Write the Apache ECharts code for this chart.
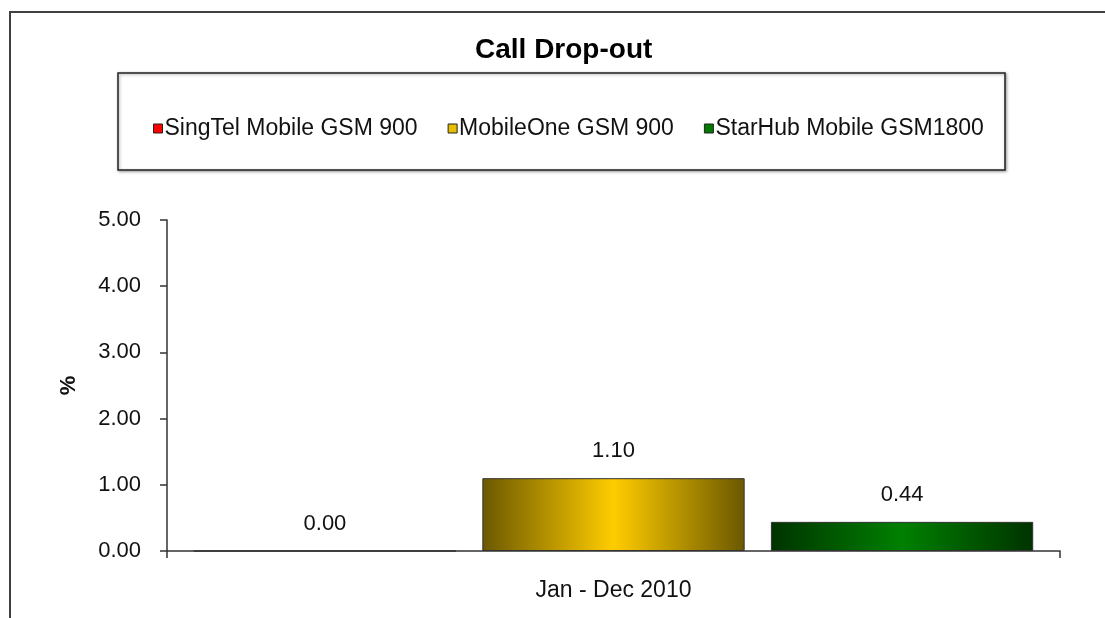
<!DOCTYPE html>
<html>
<head>
<meta charset="utf-8">
<script src="https://cdn.jsdelivr.net/npm/echarts@6/dist/echarts.min.js"></script>
<style>html,body{margin:0;padding:0;background:#fff;}#c{width:1105px;height:618px;}</style>
</head>
<body>
<div id="c"></div>
<script>
var categories = ['Jan - Dec 2010'];
var seriesNames = ['SingTel Mobile GSM 900', 'MobileOne GSM 900', 'StarHub Mobile GSM1800'];
var singtel = [0.00];
var mobileone = [1.10];
var starhub = [0.44];
var yTicks = [0, 1, 2, 3, 4, 5];

var FONT = '"Liberation Sans", Arial, sans-serif';
function grad(edge, mid) {
  return new echarts.graphic.LinearGradient(0, 0, 1, 0, [
    {offset: 0, color: edge}, {offset: 0.5, color: mid}, {offset: 1, color: edge}
  ]);
}
var legendColors = ['#ff0000', '#e6bf00', '#007a00'];
var fills = [grad('#660000', '#ff0000'), grad('#6b5800', '#ffcc00'), grad('#003300', '#008000')];
var values = [singtel, mobileone, starhub];

var chart = echarts.init(document.getElementById('c'));
chart.setOption({
  animation: false,
  backgroundColor: '#ffffff',
  title: {
    text: 'Call Drop-out', left: 470, top: 31,
    textStyle: {fontFamily: FONT, fontSize: 28, fontWeight: 'bold', color: '#000'}
  },
  graphic: [
    {type: 'rect', shape: {x: 10, y: 12, width: 1200, height: 700}, style: {fill: 'none', stroke: '#404040', lineWidth: 2}, z: -1},
    {type: 'rect', shape: {x: 118, y: 73, width: 887, height: 97}, style: {fill: '#fff', stroke: '#222', lineWidth: 1.5, shadowBlur: 3, shadowColor: 'rgba(0,0,0,0.35)', shadowOffsetX: 1, shadowOffsetY: 1}, z: -1}
  ],
  legend: {
    left: 148, top: 112, icon: 'rect', itemWidth: 9, itemHeight: 9, itemGap: 30,
    textStyle: {fontFamily: FONT, fontSize: 23, color: '#111', padding: [0, 0, 0, -3]},
    data: seriesNames.map(function (n, i) {
      return {name: n, itemStyle: {color: legendColors[i], borderColor: '#222', borderWidth: 1}};
    })
  },
  grid: {left: 167, right: 45, top: 220, bottom: 67},
  xAxis: {
    type: 'category', data: categories,
    axisLine: {lineStyle: {color: '#333', width: 1.5}},
    axisTick: {show: true, length: 7, lineStyle: {color: '#333', width: 1.5}},
    axisLabel: {margin: 28, fontFamily: FONT, fontSize: 23, color: '#111'}
  },
  yAxis: {
    type: 'value', min: yTicks[0], max: yTicks[yTicks.length - 1], interval: 1,
    name: '%', nameLocation: 'middle', nameGap: 87,
    nameTextStyle: {fontFamily: FONT, fontSize: 22, fontWeight: 'bold', color: '#111'},
    axisLine: {show: true, lineStyle: {color: '#333', width: 1.5}},
    axisTick: {show: true, length: 7, lineStyle: {color: '#333', width: 1.5}},
    splitLine: {show: false},
    axisLabel: {margin: 26, fontFamily: FONT, fontSize: 22, color: '#111',
      formatter: function (v) { return v.toFixed(2); }}
  },
  series: seriesNames.map(function (n, i) {
    return {
      name: n, type: 'bar', data: values[i],
      barCategoryGap: '6%', barGap: '10%',
      itemStyle: {color: fills[i], borderColor: '#333', borderWidth: 1},
      label: {show: true, position: 'top', distance: 16, fontFamily: FONT, fontSize: 22, color: '#111',
        formatter: function (p) { return p.value.toFixed(2); }}
    };
  })
});
</script>
</body>
</html>
